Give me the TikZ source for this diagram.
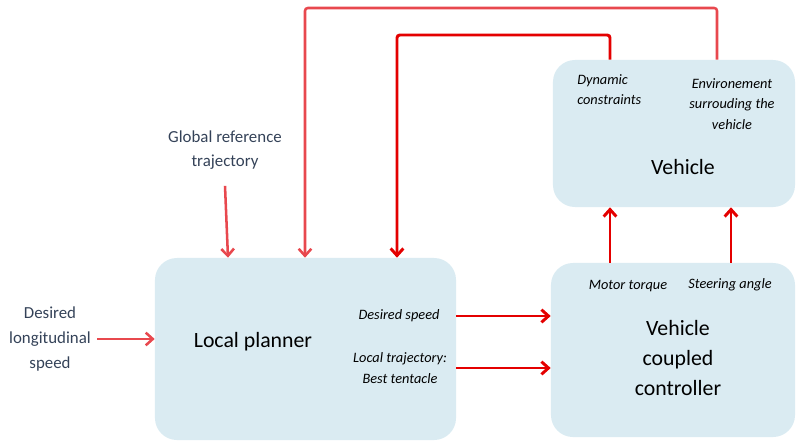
\documentclass[tikz,border=0pt]{standalone}
\usepackage{fontspec}
\setmainfont{Carlito}
\usepackage{xcolor}
\usepackage{tikz}
\usetikzlibrary{arrows.meta,positioning}

\definecolor{boxblue}{RGB}{218,235,242}
\definecolor{labelgray}{RGB}{52,66,88}
\definecolor{loopred}{RGB}{232,72,78}
\definecolor{sigred}{RGB}{228,0,0}

\begin{document}
\begin{tikzpicture}[
  x=0.025cm, y=-0.025cm,
  blk/.style={draw=none,fill=boxblue,rounded corners=0.55cm},
  big/.style={font=\fontsize{15.5}{21}\selectfont,align=center,inner sep=0pt},
  lbl/.style={font=\fontsize{12}{17.5}\selectfont,text=labelgray,align=center,inner sep=0pt},
  sig/.style={font=\fontsize{10.2}{14.5}\selectfont\itshape,align=center,inner sep=0pt},
  arr/.style={-{Straight Barb[length=5pt,width=9pt]},line width=2.1pt,draw=sigred},
  fb/.style={-{Straight Barb[length=5pt,width=9pt]},line width=1.8pt,draw=loopred}
]
  \useasboundingbox (0,0) rectangle (796,441);

  % blocks
  \node[blk,minimum width=7.525cm,minimum height=4.55cm] (lp) at (305.5,349) {};
  \node[blk,minimum width=6.05cm,minimum height=3.675cm] (veh) at (674,133.5) {};
  \node[blk,minimum width=6.1cm,minimum height=4.35cm] (ctrl) at (673,350) {};

  \node[big] (lptxt) at (253,342) {Local planner};
  \node[big] (vehtxt) at (683,167) {Vehicle};
  \node[big] (ctrltxt) at (678,358) {Vehicle\\coupled\\controller};

  % inputs
  \node[lbl] (grt) at (225,150) {Global reference\\trajectory};
  \node[lbl] (dls) at (50,339) {Desired\\longitudinal\\speed};

  % signals
  \node[sig] (ds) at (399,316) {Desired speed};
  \node[sig] (lt) at (400,368) {Local trajectory:\\Best tentacle};
  \node[sig,anchor=north west,align=left] (dc) at (577,74) {Dynamic\\constraints};
  \node[sig] (env) at (732,104) {Environement\\surrouding the\\vehicle};
  \node[sig] (mt) at (628,286) {Motor torque};
  \node[sig] (sa) at (730,285) {Steering angle};

  \coordinate (u1) at (610,0);
  \coordinate (u2) at (731,0);
  \coordinate (o1) at (717,8);
  \coordinate (o2) at (305,8);
  \coordinate (i1) at (610,35);
  \coordinate (i2) at (397,35);

  \draw[fb] ([yshift=-0.4cm]grt.south) -- ([xshift=0.075cm]grt.south |- lp.north);
  \draw[fb] (dls.east -| 97,0) -- (dls.east -| lp.west);
  \draw[arr] (ds.east -| lp.east) -- (ds.east -| ctrl.west);
  \draw[arr] (lt.east -| lp.east) -- (lt.east -| ctrl.west);
  \draw[arr] (ctrl.north -| u1) -- (veh.south -| u1);
  \draw[arr] (ctrl.north -| u2) -- (veh.south -| u2);

  % feedback loops
  \draw[fb,rounded corners=2pt] (veh.north -| o1) -- (o1) -- (o2) -- (lp.north -| o2);
  \draw[arr,rounded corners=2pt] (veh.north -| i1) -- (i1) -- (i2) -- (lp.north -| i2);
\end{tikzpicture}
\end{document}
